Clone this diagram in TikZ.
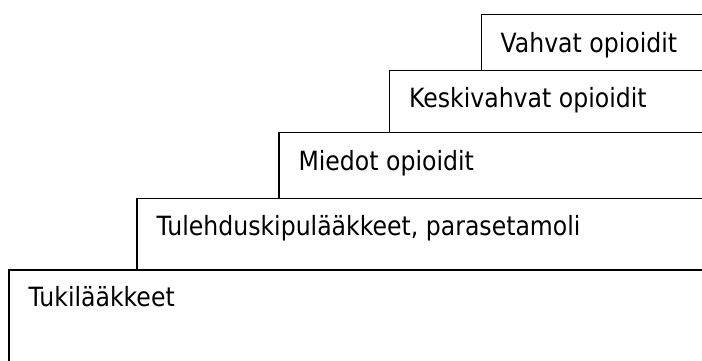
\documentclass[tikz,border=0pt]{standalone}
\usepackage{fontspec}
\setmainfont{DejaVu Sans}[FakeStretch=0.89]
\begin{document}
\begin{tikzpicture}[x=1pt,y=-1pt,line width=1.1pt]
\tikzset{steplabel/.style={anchor=base west,inner sep=0pt,font=\fontsize{26.5}{30}\selectfont}}
\useasboundingbox (0,0) rectangle (702,361);
\clip (0,0) rectangle (702,361);

% the steps, lowest first
\draw (9,361) -- (9,270) -- (702,270);
\node[steplabel] (tuki) at (28,306.7) {Tukilääkkeet};

\draw (137,270) -- (137,198.3) -- (702,198.3);
\node[steplabel] (tulehdus) at (156,235) {Tulehduskipulääkkeet, parasetamoli};

\draw (279,198.3) -- (279,132.5) -- (702,132.5);
\node[steplabel] (miedot) at (298,170) {Miedot opioidit};

\draw (389.5,132.5) -- (389.5,70.3) -- (702,70.3);
\node[steplabel] (keski) at (408.5,107.7) {Keskivahvat opioidit};

\draw (481.5,70.3) -- (481.5,14.3) -- (702,14.3);
\node[steplabel] (vahvat) at (500,52.8) {Vahvat opioidit};
\end{tikzpicture}
\end{document}
